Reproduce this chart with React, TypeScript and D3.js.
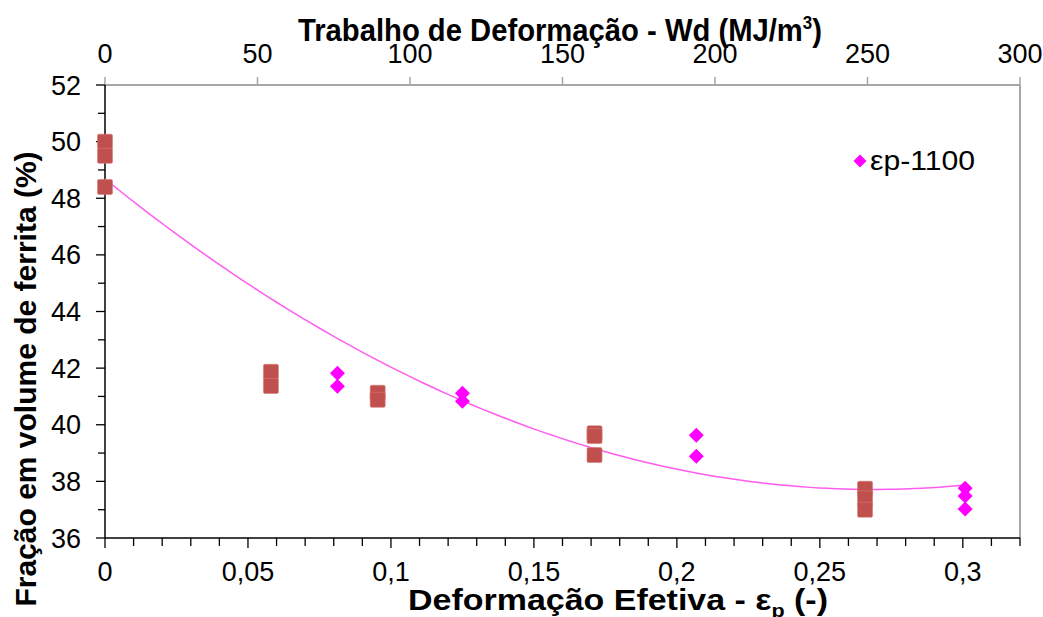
import React from 'react';
import * as d3 from 'd3';

// Trabalho de deformação (top axis, MJ/m³) – squares
const squareWd = [0, 0, 0, 54.4, 54.4, 89.4, 89.4, 160.5, 160.5, 160.5, 249.2, 249.2, 249.2];
const squareFerrite = [50.0, 49.5, 48.4, 41.87, 41.37, 41.13, 40.88, 39.7, 39.6, 38.93, 37.74, 37.4, 37.0];

// Deformação efetiva (bottom axis) – εp-1100 diamonds
const diamondEps = [0.0813, 0.0813, 0.125, 0.125, 0.2068, 0.2068, 0.3008, 0.3008, 0.3008];
const diamondFerrite = [41.82, 41.36, 41.11, 40.83, 39.63, 38.89, 37.76, 37.48, 37.02];

// polynomial trendline (2nd order)
const trendCoef = [48.68, -81.65, 152];
const trendRange = [0, 0.3008];

const epsTicks = [0, 0.05, 0.1, 0.15, 0.2, 0.25, 0.3];
const wdTicks = [0, 50, 100, 150, 200, 250, 300];
const yTicks = [36, 38, 40, 42, 44, 46, 48, 50, 52];

const W = 1043;
const H = 617;
const left = 105, right = 1020, top = 85, bottom = 538;
const font = '"Liberation Sans", Arial, sans-serif';

export default function App() {
  const x = d3.scaleLinear().domain([0, 0.32]).range([left, right]);
  const xTop = d3.scaleLinear().domain([0, 300]).range([left, right]);
  const y = d3.scaleLinear().domain([36, 52]).range([bottom, top]);

  const trendPts = d3.range(trendRange[0], trendRange[1] + 1e-9, (trendRange[1] - trendRange[0]) / 100)
    .map((e) => [e, trendCoef[0] + trendCoef[1] * e + trendCoef[2] * e * e] as [number, number]);
  const line = d3.line<[number, number]>().x((d) => x(d[0])).y((d) => y(d[1]));

  const minorX = d3.range(0, 33).map((i) => i / 100);
  const minorY = d3.range(36, 53);
  const diamond = (cx: number, cy: number, r: number) =>
    `M${cx},${cy - r}L${cx + r},${cy}L${cx},${cy + r}L${cx - r},${cy}Z`;

  return (
    <svg width={W} height={H} style={{ position: 'absolute', left: 0, top: 0 }} fontFamily={font}>
      <rect width={W} height={H} fill="#fff" />
      {/* frame */}
      <line x1={left} x2={right} y1={top} y2={top} stroke="#a6a6a6" strokeWidth={2} />
      <line x1={right} x2={right} y1={top} y2={bottom} stroke="#a6a6a6" strokeWidth={2} />
      {wdTicks.map((t) => (
        <line key={'tt' + t} x1={xTop(t)} x2={xTop(t)} y1={top} y2={top - 8} stroke="#a6a6a6" strokeWidth={1.5} />
      ))}
      {wdTicks.map((t) => (
        <text key={'tl' + t} x={xTop(t)} y={63} fontSize={27} textAnchor="middle" fill="#000">{t}</text>
      ))}
      <text x={560} y={41} fontSize={31} fontWeight="bold" textAnchor="middle" textLength={524} lengthAdjust="spacingAndGlyphs">
        Trabalho de Deformação - Wd (MJ/m<tspan fontSize={18} dy={-12}>3</tspan><tspan dy={12}>)</tspan>
      </text>

      {/* y axis */}
      <line x1={left} x2={left} y1={top} y2={bottom} stroke="#000" strokeWidth={1.5} />
      {minorY.map((t) => (
        <line key={'ym' + t} x1={left - (t % 2 === 0 ? 9 : 7)} x2={left} y1={y(t)} y2={y(t)} stroke="#000" strokeWidth={1.3} />
      ))}
      {yTicks.map((t) => (
        <text key={'yl' + t} x={81} y={y(t) + 9.5} fontSize={27} textAnchor="end">{t}</text>
      ))}
      <text transform={`translate(36,${379}) rotate(-90)`} fontSize={30} fontWeight="bold" textAnchor="middle">
        Fração em volume de ferrita (%)
      </text>

      {/* x axis */}
      <line x1={left} x2={right} y1={bottom} y2={bottom} stroke="#000" strokeWidth={1.5} />
      {minorX.map((t, i) => (
        <line key={'xm' + i} x1={x(t)} x2={x(t)} y1={bottom} y2={bottom + (i % 5 === 0 ? 10 : 8)} stroke="#000" strokeWidth={1.3} />
      ))}
      {epsTicks.map((t) => (
        <text key={'xl' + t} x={x(t)} y={581} fontSize={27} textAnchor="middle">{String(t).replace('.', ',')}</text>
      ))}
      <text x={618} y={610} fontSize={30} fontWeight="bold" textAnchor="middle" textLength={420} lengthAdjust="spacingAndGlyphs">
        Deformação Efetiva - ε<tspan fontSize={19} dy={7}>p</tspan><tspan dy={-7}> (-)</tspan>
      </text>

      {/* trendline */}
      <path d={line(trendPts) ?? ''} fill="none" stroke="#ff5cf0" strokeWidth={1.5} />

      {/* squares */}
      {squareWd.map((w, i) => (
        <rect key={'s' + i} x={xTop(w) - 7.5} y={y(squareFerrite[i]) - 7.5} width={15} height={15} rx={1.5}
          fill="#c0504d" stroke="#d77a77" strokeWidth={0.6} />
      ))}
      {/* diamonds */}
      {diamondEps.map((e, i) => (
        <path key={'d' + i} d={diamond(x(e), y(diamondFerrite[i]), 7.5)} fill="#ff00ff" />
      ))}

      {/* legend */}
      <path d={diamond(860, 161, 6.5)} fill="#ff00ff" />
      <text x={870} y={170} fontSize={27} textLength={105} lengthAdjust="spacingAndGlyphs">εp-1100</text>
    </svg>
  );
}
